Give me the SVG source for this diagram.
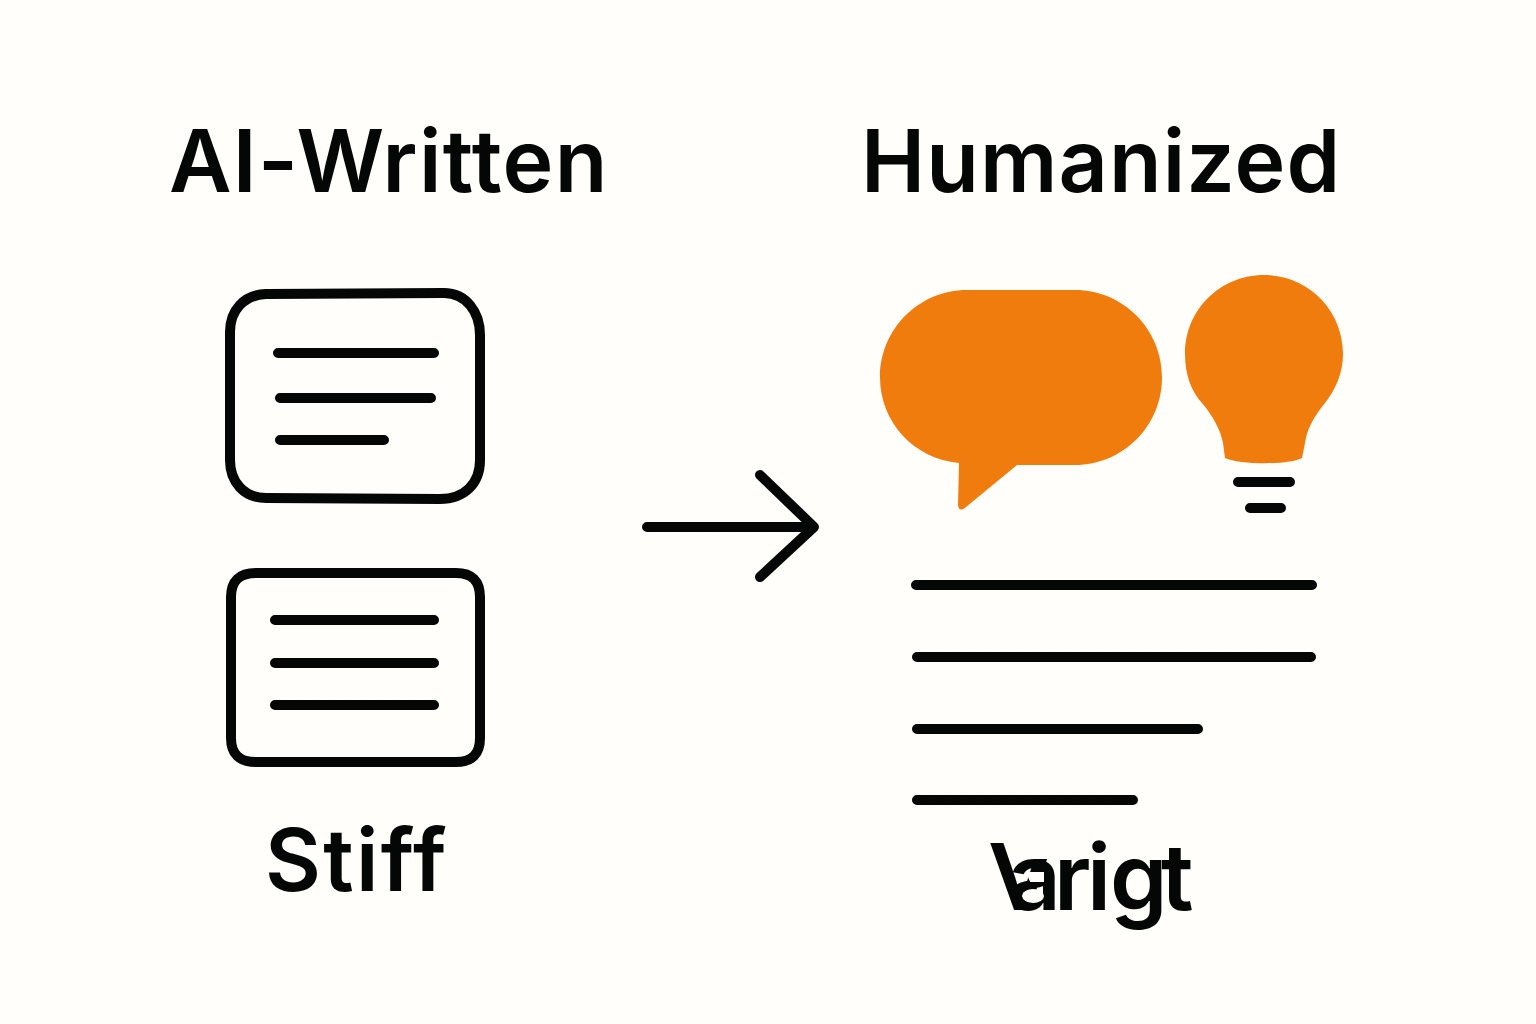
<svg xmlns="http://www.w3.org/2000/svg" width="1536" height="1024" viewBox="0 0 1536 1024">
<style>
.t{font-family:"Inter","Liberation Sans",sans-serif;font-weight:600;fill:#050707;font-optical-sizing:none}
.l{fill:none;stroke:#050707;stroke-width:10;stroke-linecap:round;stroke-linejoin:round}
.o{fill:#f17c0e}
</style>
<defs><clipPath id="vclip"><path clip-rule="evenodd" d="M960 830H1013L1016 859H1086V830H1210V950H960ZM1026 872H1044V882H1030ZM1022 896A11 7 0 0 0 1044 896A11 7 0 0 0 1022 896Z"/></clipPath></defs>
<rect width="1536" height="1024" fill="#fffefb"/>
<g id="title-ai"><text class="t" x="169" y="192" font-size="86" letter-spacing="1.300">AI-Written</text></g>
<g id="title-humanized"><text class="t" x="861" y="192" font-size="86" letter-spacing="1.100">Humanized</text></g>
<g id="doc-top">
<path class="l" d="M266 294 L444 293 C466 293 480 312 480 335 L480 460 C480 484 464 499 440 499 L266 498 C244 498 230 482 230 460 L230 332 C230 310 244 295 266 294Z"/>
<path class="l" d="M278 353H434M280 398H431M280 440H384"/>
</g>
<g id="doc-bottom">
<path class="l" d="M256 573 L456 573 Q480 573 480 597 L480 738 Q480 762 456 762 L256 762 Q231 762 231 738 L231 597 Q231 573 256 573Z"/>
<path class="l" d="M275 620H434M275 663H434M275 705H434"/>
</g>
<g id="connectors"><path class="l" d="M647 527H812M760 475L814 527L760 577"/></g>
<g id="speech-bubble"><path class="o" d="M967 290H1075C1123 290 1162 329 1162 377.500C1162 426 1123 465 1075 465H1017L966 507Q959 513 958 505L959 463C914 459 880 422 880 377.500C880 329 919 290 967 290Z"/></g>
<g id="bulb">
<path class="o" d="M1264 275C1308 275 1343 310 1343 354C1343 374 1335 390 1325 403C1312 419 1307 430 1305 443L1302 458C1290 465 1240 465 1225 458L1223 443C1220 428 1212 415 1202 403C1192 392 1185 376 1185 354C1185 310 1220 275 1264 275Z"/>
<path class="l" d="M1238 482H1290M1250 508H1281"/>
</g>
<g id="text-lines"><path class="l" d="M916 585H1312M917 657H1311M917 729H1198M917 800H1133"/></g>
<g id="label-stiff"><text class="t" x="265" y="891" font-size="86" letter-spacing="2.300">Stiff</text></g>
<g id="label-varigt" clip-path="url(#vclip)"><text class="t" y="910" font-size="92" x="988 1008 1054 1087 1110 1161">Varigt</text></g>
</svg>
